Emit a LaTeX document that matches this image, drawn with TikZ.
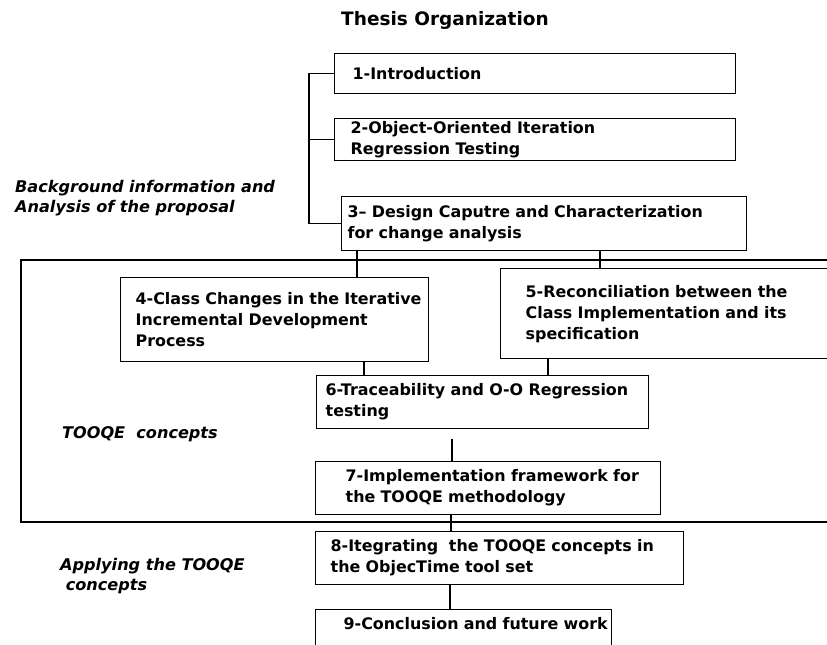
\documentclass[tikz,border=0pt]{standalone}
\usepackage{fontspec}
\newfontfamily\dvs{DejaVu Sans}
% one unbreakable text line inside a box
\newcommand\oneline[1]{\mbox{#1}}
\begin{document}
\begin{tikzpicture}[x=1pt,y=-1pt,
  line/.style={line width=1.3pt, line cap=rect},
  box/.style={draw, line width=1.3pt, rectangle, anchor=north west, align=left,
    inner ysep=0pt, font=\dvs\bfseries\fontsize{15.9}{21}\selectfont},
  side/.style={anchor=north west, align=left, inner sep=0pt,
    font=\dvs\bfseries\itshape\fontsize{16.1}{20.5}\selectfont}]
\useasboundingbox (0,0) rectangle (827,645);

% title
\node[font=\dvs\bfseries\fontsize{18.5}{22}\selectfont] (title) at (445,20) {Thesis Organization};

% background chapters
\node[box, minimum width=401, minimum height=40, inner xsep=18, text width=365] (b1) at (334,53) {\oneline{1-Introduction}};
\node[box, minimum width=401, minimum height=42, inner xsep=16, text width=369] (b2) at (334,118) {\oneline{2-Object-Oriented Iteration}\\\oneline{Regression Testing}};
\node[box, minimum width=405, minimum height=54, inner xsep=6, text width=393] (b3) at (341,196) {\oneline{3– Design Caputre and Characterization}\\\oneline{for change analysis}};

\draw[line] (b1.west) -- ++(-25,0) coordinate (bk) |- (b3.west);
\draw[line] (b2.west) -- (b2.west -| bk);

\node[side] (lbg) at (15,180) {Background information and\\Analysis of the proposal};

% TOOQE concepts frame
\draw[line width=1.3pt] (845,260) -- (21,260) -- (21,522) -- (845,522);
\node[side] (ltq) at (62,426) {TOOQE\ \ concepts};

\node[box, minimum width=308, minimum height=84, inner xsep=15, text width=278] (b4) at (120,277) {\oneline{4-Class Changes in the Iterative}\\\oneline{Incremental Development}\\\oneline{Process}};
\node[box, minimum width=340, minimum height=90, inner xsep=25, text width=290] (b5) at (500,268) {\oneline{5-Reconciliation between the}\\\oneline{Class Implementation and its}\\\oneline{specification}};
\node[box, minimum width=332, minimum height=53, inner xsep=9, text width=314] (b6) at (316,375) {\oneline{6-Traceability and O-O Regression}\\\oneline{testing}};
\node[box, minimum width=345, minimum height=53, inner xsep=30, text width=285] (b7) at (315,461) {\oneline{7-Implementation framework for}\\\oneline{the TOOQE methodology}};

\draw[line] (357,0 |- b3.south) -- (357,0 |- b4.north);
\draw[line] (600,0 |- b3.south) -- (600,0 |- b5.north);
\draw[line] (364,0 |- b4.south) -- (364,0 |- b6.north);
\draw[line] (548,0 |- b5.south) -- (548,0 |- b6.north);
\draw[line, shorten <=10pt] (452,0 |- b6.south) -- (452,0 |- b7.north);

% applying the concepts
\node[side] (lap) at (60,558) {Applying the TOOQE\\\ concepts};
\node[box, minimum width=368, minimum height=53, inner xsep=15, text width=338] (b8) at (315,531) {\oneline{8-Itegrating\ \ the TOOQE concepts in}\\\oneline{the ObjecTime tool set}};
\node[box, minimum width=296, inner ysep=8, inner xsep=28, text width=240, text depth=30] (b9) at (315,609) {\oneline{9-Conclusion and future work}};

\draw[line] (451,0 |- b7.south) -- (451,0 |- b8.north);
\draw[line] (450,0 |- b8.south) -- (450,0 |- b9.north);
\end{tikzpicture}
\end{document}
